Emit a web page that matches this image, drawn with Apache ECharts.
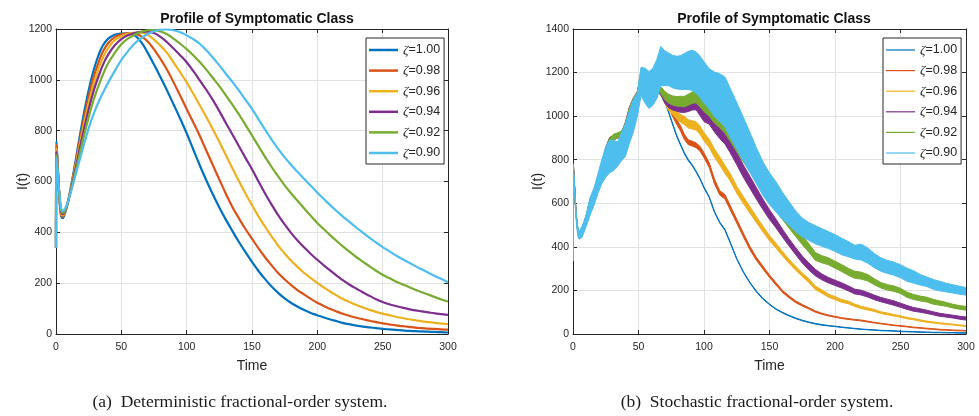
<!DOCTYPE html>
<html>
<head>
<meta charset="utf-8">
<title>Profile of Symptomatic Class</title>
<script src="https://cdn.jsdelivr.net/npm/echarts@6/dist/echarts.min.js"></script>
<style>
  html, body { margin: 0; padding: 0; background: #fff; }
  #chart { width: 979px; height: 416px; }
</style>
</head>
<body>
<div id="chart"></div>
<script>
// ---- series labels and colours ----
const zetaNames = ['ζ=1.00', 'ζ=0.98', 'ζ=0.96', 'ζ=0.94', 'ζ=0.92', 'ζ=0.90'];
const palette = ['#0072BD', '#D95319', '#EDB120', '#7E2F8E', '#77AC30', '#4DBEEE'];

// ---- (a) deterministic fractional-order system: I(t) ----
const tDet = [0, 0.3, 1, 2, 3, 4, 5, 6, 8, 10, 12, 14, 16, 18, 20, 22, 24, 26, 28, 30, 33, 36,
  40, 45, 50, 55, 60, 65, 70, 75, 80, 85, 90, 95, 100, 105, 110, 115, 120, 125, 130, 135, 140, 145,
  150, 155, 160, 165, 170, 175, 180, 185, 190, 195, 200, 205, 210, 215, 220, 225,
  230, 235, 240, 245, 250, 255, 260, 265, 270, 275, 280, 285, 290, 295, 300];
const det100 = [340, 760, 700, 590, 505, 462, 456, 462, 495, 540, 595, 652, 712, 772, 830, 885, 935, 982, 1023, 1058, 1103, 1136,
  1162, 1177, 1182, 1183, 1176, 1150, 1108, 1060, 1010, 958, 903, 848, 790, 727, 664, 605, 550, 498, 450, 405, 362, 322,
  284, 248, 216, 187, 162, 140, 122, 107, 94, 83, 74, 65, 57, 50, 43, 38,
  33, 29, 26, 23, 20, 18, 16, 14, 12, 11, 10, 9, 8, 7, 6];
const det098 = [340, 745, 690, 590, 510, 468, 462, 467, 496, 538, 590, 644, 700, 756, 810, 862, 910, 955, 996, 1030, 1075, 1112,
  1145, 1168, 1179, 1183, 1182, 1172, 1152, 1120, 1082, 1040, 990, 938, 885, 833, 780, 722, 665, 608, 552, 500, 455, 413,
  375, 337, 302, 270, 240, 215, 192, 172, 155, 138, 123, 110, 98, 88, 79, 71,
  64, 58, 52, 47, 42, 38, 34, 31, 28, 25, 23, 21, 20, 18, 17];
const det096 = [340, 730, 680, 590, 515, 474, 467, 471, 497, 537, 585, 636, 689, 741, 792, 840, 886, 929, 969, 1004, 1050, 1088,
  1126, 1156, 1172, 1181, 1185, 1186, 1178, 1158, 1134, 1106, 1068, 1030, 990, 946, 900, 854, 806, 756, 704, 652, 602, 553,
  507, 463, 422, 384, 348, 317, 288, 263, 240, 220, 201, 183, 166, 151, 137, 125,
  114, 104, 95, 87, 80, 74, 68, 63, 58, 54, 50, 47, 44, 41, 39];
const det094 = [340, 718, 672, 590, 520, 480, 472, 475, 498, 536, 580, 627, 676, 725, 773, 819, 863, 904, 942, 976, 1020, 1060,
  1100, 1136, 1160, 1175, 1184, 1189, 1190, 1184, 1169, 1148, 1123, 1097, 1069, 1035, 998, 961, 921, 877, 830, 785, 739, 693,
  648, 600, 553, 509, 468, 431, 397, 367, 340, 315, 292, 270, 249, 229, 210, 193,
  178, 163, 150, 137, 126, 117, 110, 104, 98, 93, 89, 85, 81, 78, 75];
const det092 = [340, 705, 664, 590, 525, 486, 477, 479, 499, 535, 575, 618, 662, 706, 750, 792, 833, 872, 908, 940, 983, 1022,
  1066, 1106, 1140, 1162, 1177, 1188, 1195, 1196, 1190, 1179, 1162, 1142, 1121, 1097, 1070, 1040, 1008, 975, 939, 902, 864, 823,
  781, 739, 697, 657, 620, 585, 553, 523, 494, 465, 437, 412, 388, 365, 343, 322,
  302, 284, 266, 249, 233, 220, 207, 196, 185, 174, 164, 155, 145, 136, 128];
const det090 = [340, 695, 656, 590, 530, 494, 484, 486, 505, 535, 570, 607, 645, 683, 720, 757, 792, 825, 855, 882, 918, 950,
  990, 1035, 1078, 1112, 1142, 1163, 1180, 1191, 1197, 1198, 1195, 1187, 1175, 1160, 1142, 1116, 1088, 1057, 1024, 992, 958, 922,
  886, 845, 804, 765, 728, 695, 665, 637, 610, 583, 556, 531, 506, 483, 460, 439,
  418, 398, 378, 360, 342, 326, 310, 295, 281, 267, 254, 241, 228, 216, 204];

// ---- (b) stochastic fractional-order system: centre of each noisy path and the width of its band ----
const tSto = [0, 0.3, 1, 2, 3, 4, 5, 7,
  10, 13, 16, 19, 22, 25, 28, 31, 34, 37, 40, 43, 46, 49, 52, 55, 58, 61, 64, 67,
  70, 73, 76, 79, 82, 85, 88, 91, 94, 97, 100,
  104, 108, 112, 116, 120,
  125, 130, 135, 140, 145, 150, 155, 160, 165, 170, 175, 180, 185, 190, 195, 200, 205, 210, 215, 220,
  225, 230, 235, 240, 245, 250, 255, 260, 265, 270, 275, 280, 285, 290, 295, 300];

const sto100Mid = [340, 780, 700, 585, 505, 462, 455, 478,
  530, 612, 648, 702, 772, 848, 893, 902, 908, 912, 962, 1030, 1072, 1102, 1150, 1135, 1112, 1108, 1118, 1128,
  1070, 1018, 965, 912, 870, 830, 798, 775, 745, 712, 672,
  628, 560, 512, 478, 420,
  345, 285, 236, 195, 162, 136, 114, 98, 84, 72, 62, 54, 47, 42, 38, 35, 31, 28, 25, 22,
  20, 18, 16, 15, 14, 12, 11, 10, 9, 8, 7, 7, 6, 6, 5, 5];
const sto100Spread = [4, 10, 12, 12, 12, 12, 12, 12,
  14, 16, 16, 16, 18, 18, 20, 20, 18, 18, 20, 20, 20, 20, 22, 20, 18, 16, 14, 10,
  6, 6, 6, 6, 6, 6, 6, 5, 5, 5, 5,
  5, 5, 5, 5, 5,
  4, 4, 4, 4, 4, 3, 3, 3, 3, 3, 3, 3, 3, 3, 2, 2, 2, 2, 2, 2,
  2, 2, 2, 2, 2, 2, 2, 2, 2, 2, 2, 2, 2, 2, 2, 2];

const sto098Mid = [340, 775, 698, 585, 506, 463, 456, 479,
  531, 612, 647, 700, 770, 846, 891, 902, 909, 914, 960, 1028, 1070, 1100, 1160, 1140, 1118, 1110, 1120, 1125,
  1100, 1045, 1010, 975, 945, 905, 880, 874, 866, 850, 820,
  775, 700, 648, 630, 580,
  518, 455, 395, 345, 305, 265, 230, 195, 170, 148, 132, 118, 103, 93, 85, 79, 73, 69, 65, 62,
  57, 52, 48, 44, 40, 37, 34, 30, 28, 25, 23, 20, 19, 17, 16, 15];
const sto098Spread = [4, 10, 12, 12, 12, 12, 12, 12,
  14, 16, 16, 18, 18, 20, 20, 20, 18, 18, 20, 22, 22, 22, 24, 22, 20, 18, 16, 12,
  16, 18, 20, 22, 24, 24, 22, 22, 22, 22, 22,
  22, 22, 20, 20, 20,
  18, 17, 16, 14, 13, 12, 11, 10, 9, 8, 7, 6, 6, 5, 5, 4, 4, 4, 4, 4,
  4, 3, 3, 3, 3, 3, 3, 3, 3, 3, 3, 3, 3, 3, 3, 3];

const sto096Mid = [340, 770, 696, 584, 507, 464, 457, 480,
  532, 610, 646, 699, 768, 844, 889, 903, 910, 916, 958, 1026, 1068, 1098, 1170, 1145, 1122, 1112, 1122, 1120,
  1075, 1040, 1025, 1005, 990, 980, 965, 960, 955, 935, 905,
  875, 830, 795, 755, 720,
  662, 615, 570, 525, 482, 440, 405, 368, 333, 302, 272, 245, 212, 195, 176, 165, 152, 145, 132, 122,
  115, 108, 98, 92, 86, 80, 73, 68, 62, 57, 53, 49, 46, 43, 40, 37];
const sto096Spread = [4, 10, 12, 12, 12, 12, 12, 12,
  16, 18, 18, 18, 20, 22, 22, 22, 20, 20, 22, 22, 24, 24, 26, 24, 22, 20, 20, 22,
  28, 30, 32, 34, 36, 38, 38, 38, 38, 38, 38,
  38, 38, 38, 36, 34,
  32, 32, 30, 28, 26, 24, 22, 20, 18, 18, 17, 17, 16, 15, 14, 14, 13, 12, 11, 10,
  10, 9, 8, 8, 7, 7, 6, 6, 6, 5, 5, 5, 5, 4, 4, 4];

const sto094Mid = [340, 765, 694, 583, 508, 465, 458, 481,
  533, 609, 645, 698, 766, 842, 887, 904, 911, 918, 956, 1024, 1066, 1096, 1180, 1150, 1125, 1115, 1125, 1110,
  1075, 1055, 1045, 1040, 1035, 1035, 1040, 1048, 1050, 1025, 1000,
  990, 955, 925, 900, 860,
  805, 748, 697, 645, 595, 548, 507, 462, 420, 380, 342, 310, 282, 262, 247, 235, 223, 210, 195, 190,
  180, 168, 158, 150, 142, 132, 122, 113, 108, 102, 95, 88, 84, 80, 75, 71];
const sto094Spread = [4, 10, 12, 12, 12, 12, 12, 12,
  16, 18, 18, 20, 20, 22, 22, 22, 20, 22, 22, 24, 24, 24, 28, 26, 24, 22, 22, 26,
  30, 32, 33, 34, 35, 36, 38, 40, 42, 46, 50,
  54, 55, 56, 56, 56,
  56, 56, 55, 52, 48, 44, 40, 36, 33, 32, 32, 32, 30, 27, 25, 24, 24, 23, 22, 22,
  21, 21, 20, 20, 20, 19, 18, 17, 16, 15, 14, 14, 13, 13, 14, 14];

const sto092Mid = [340, 760, 692, 582, 509, 466, 459, 482,
  534, 608, 644, 697, 764, 840, 885, 905, 912, 920, 954, 1022, 1064, 1094, 1200, 1160, 1130, 1120, 1130, 1120,
  1095, 1080, 1072, 1068, 1068, 1067, 1075, 1085, 1088, 1070, 1050,
  1030, 1000, 980, 955, 920,
  872, 825, 780, 733, 682, 635, 590, 548, 507, 468, 430, 395, 356, 343, 334, 318, 303, 286, 272, 268,
  258, 240, 224, 214, 208, 198, 180, 170, 163, 158, 148, 142, 136, 128, 122, 118];
const sto092Spread = [4, 10, 12, 12, 12, 12, 12, 12,
  16, 18, 18, 20, 22, 22, 24, 24, 22, 22, 22, 24, 26, 26, 30, 28, 26, 24, 24, 30,
  38, 40, 42, 44, 46, 48, 50, 52, 54, 56, 58,
  61, 64, 66, 68, 70,
  70, 70, 70, 62, 55, 54, 52, 47, 41, 40, 40, 40, 36, 33, 32, 32, 32, 32, 32, 32,
  30, 27, 25, 25, 25, 24, 24, 23, 22, 22, 22, 20, 18, 17, 17, 17];

const sto090Mid = [340, 760, 690, 575, 500, 460, 455, 470,
  520, 585, 630, 690, 745, 790, 815, 820, 825, 860, 890, 950, 1000, 1050, 1160, 1140, 1120, 1135, 1170, 1230,
  1220, 1215, 1205, 1200, 1200, 1205, 1210, 1210, 1200, 1180, 1155,
  1125, 1100, 1085, 1065, 1015,
  956, 895, 834, 772, 713, 667, 629, 588, 553, 517, 489, 471, 456, 443, 431, 418, 402, 390, 376, 376,
  360, 337, 319, 308, 300, 288, 272, 262, 249, 240, 228, 220, 213, 207, 201, 196];
const sto090Spread = [10, 20, 30, 40, 40, 40, 40, 50,
  55, 80, 80, 90, 110, 140, 150, 140, 110, 130, 150, 150, 150, 110, 130, 160, 170, 170, 180, 180,
  160, 150, 150, 150, 155, 165, 175, 185, 190, 190, 190,
  185, 205, 220, 230, 225,
  213, 200, 184, 165, 154, 145, 138, 123, 107, 95, 86, 82, 83, 81, 78, 77, 76, 70, 63, 73,
  70, 65, 62, 60, 60, 60, 60, 57, 48, 44, 45, 44, 40, 38, 37, 35];

// ---- chart construction ----
const detSeries = [det100, det098, det096, det094, det092, det090];
const stoMid = [sto100Mid, sto098Mid, sto096Mid, sto094Mid, sto092Mid, sto090Mid];
const stoSpread = [sto100Spread, sto098Spread, sto096Spread, sto094Spread, sto092Spread, sto090Spread];

const sans = '"Liberation Sans", Arial, Helvetica, sans-serif';
const serif = '"Liberation Serif", "Times New Roman", serif';
const ink = '#262626';

function pairs(xs, ys) { return xs.map((x, i) => [x, ys[i]]); }

function axisPair(gridIndex, max, interval, isX) {
  const base = {
    type: 'value', gridIndex: gridIndex, min: 0, max: max, interval: interval,
    axisLine: { show: true, onZero: false, lineStyle: { color: ink, width: 1 } },
    axisTick: { show: true, inside: true, length: 4, lineStyle: { color: ink, width: 1 } },
    splitLine: { show: false }
  };
  const main = Object.assign({}, base, {
    position: isX ? 'bottom' : 'left',
    axisLabel: { show: true, color: ink, fontFamily: sans, fontSize: 10.5, margin: isX ? 8 : 4,
                 showMinLabel: true, showMaxLabel: true, formatter: v => String(v) },
    splitLine: { show: true, lineStyle: { color: '#e2e2e2', width: 1 } },
    name: isX ? 'Time' : 'I(t)',
    nameLocation: 'middle',
    nameMoveOverlap: false,
    nameGap: isX ? 25 : (gridIndex === 0 ? 26 : 28),
    nameTextStyle: { color: ink, fontFamily: sans, fontSize: 14 }
  });
  const mirror = Object.assign({}, base, {
    position: isX ? 'top' : 'right',
    axisLabel: { show: false }
  });
  return [main, mirror];
}

const xAxes = [].concat(axisPair(0, 300, 50, true), axisPair(1, 300, 50, true));
const yAxes = [].concat(axisPair(0, 1200, 200, false), axisPair(1, 1400, 200, false));

const series = [];
detSeries.forEach((vals, i) => {
  series.push({
    type: 'line', name: zetaNames[i], xAxisIndex: 0, yAxisIndex: 0,
    data: pairs(tDet, vals), symbol: 'none', smooth: 0.4,
    lineStyle: { width: 2.2, color: palette[i] }, itemStyle: { color: palette[i] },
    emphasis: { disabled: true }, silent: true
  });
});

// each noisy sample path is drawn as a filled band between its lower and upper edge
stoMid.forEach((mid, i) => {
  const spread = stoSpread[i];
  const rows = tSto.map((t, k) => [t, mid[k] - spread[k] / 2, mid[k] + spread[k] / 2]);
  series.push({
    type: 'custom', name: zetaNames[i], xAxisIndex: 2, yAxisIndex: 2,
    data: rows, encode: { x: 0, y: [1, 2] }, clip: true, silent: true,
    renderItem: function (params, api) {
      if (params.dataIndex !== 0) return null;
      const upper = rows.map(r => api.coord([r[0], r[2]]));
      const lower = rows.map(r => api.coord([r[0], r[1]])).reverse();
      return {
        type: 'polygon',
        shape: { points: upper.concat(lower) },
        style: { fill: palette[i], stroke: palette[i], lineWidth: 1, lineJoin: 'round' }
      };
    }
  });
});

function legendAt(left, lineWidth) {
  return {
    data: zetaNames, orient: 'vertical', left: left, top: 38,
    icon: 'rect', itemWidth: 29, itemHeight: lineWidth, itemGap: 6.6,
    padding: [5, 4, 4, 3],
    backgroundColor: '#fff', borderColor: ink, borderWidth: 1, borderRadius: 0,
    selectedMode: false,
    formatter: name => '{z|ζ}{t|' + name.slice(1) + '}',
    textStyle: {
      color: ink,
      rich: {
        z: { fontFamily: serif, fontStyle: 'italic', fontSize: 13.5, color: ink, lineHeight: 14 },
        t: { fontFamily: sans, fontSize: 12.5, color: ink, lineHeight: 14 }
      }
    }
  };
}

const titleStyle = { color: '#111', fontFamily: sans, fontSize: 14, fontWeight: 'bold' };
const captionFont = { fill: '#1a1a1a', fontFamily: serif, fontSize: 17.5, align: 'center', verticalAlign: 'middle' };

const option = {
  animation: false,
  backgroundColor: '#fff',
  title: [
    { text: 'Profile of Symptomatic Class', left: 252, top: 7, textAlign: 'center', textStyle: titleStyle },
    { text: 'Profile of Symptomatic Class', left: 769, top: 7, textAlign: 'center', textStyle: titleStyle }
  ],
  grid: [
    { left: 56, top: 29, width: 392, height: 305, containLabel: false, outerBoundsMode: 'none' },
    { left: 573, top: 29, width: 393, height: 305, containLabel: false, outerBoundsMode: 'none' }
  ],
  legend: [legendAt(366, 2.5), legendAt(883, 1.2)],
  xAxis: xAxes,
  yAxis: yAxes,
  series: series,
  graphic: [
    { type: 'text', x: 240, y: 402, silent: true,
      style: Object.assign({ text: '(a)  Deterministic fractional-order system.' }, captionFont) },
    { type: 'text', x: 757, y: 402, silent: true,
      style: Object.assign({ text: '(b)  Stochastic fractional-order system.' }, captionFont) }
  ]
};

const chart = echarts.init(document.getElementById('chart'), null, { renderer: 'canvas' });
chart.setOption(option);
</script>
</body>
</html>
